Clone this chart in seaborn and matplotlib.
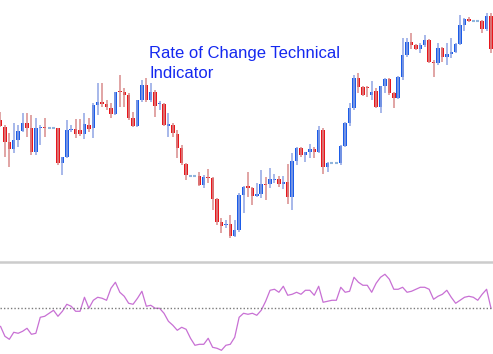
import numpy as np
import pandas as pd
import matplotlib
matplotlib.use('Agg')
import matplotlib.pyplot as plt
import seaborn as sns

# candle data (price units)
opens = [141, 134, 119, 112, 121, 130, 138, 133, 109, 133, 134, 133, 133, 133, 98, 104,
         131, 132, 131, 127, 136, 133, 156, 159, 157, 153, 147, 170, 169, 166, 143, 135,
         161, 176, 161, 169, 157, 157, 135, 136, 127, 113, 97, 85, 85, 85, 76, 84,
         83, 62, 39, 36, 37, 25, 31, 66, 75, 73, 65, 67, 77, 77, 81, 82,
         77, 79, 64, 100, 113, 106, 109, 112, 109, 131, 94, 98, 98, 98, 115, 138,
         153, 183, 174, 174, 166, 170, 154, 175, 182, 168, 163, 184, 206, 219, 216, 212,
         216, 221, 199, 198, 213, 204, 207, 209, 217, 236, 242, 240, 240, 240, 232, 245]
closes = [135, 119, 112, 121, 130, 138, 133, 109, 133, 134, 133, 133, 133, 98, 104, 131,
          132, 127, 127, 137, 132, 156, 159, 157, 154, 147, 169, 169, 166, 143, 135, 161,
          176, 161, 169, 155, 158, 136, 137, 128, 113, 98, 86, 85, 85, 76, 84, 83,
          62, 39, 35, 37, 25, 31, 66, 74, 73, 65, 67, 77, 76, 82, 82, 77,
          79, 64, 100, 113, 106, 109, 112, 109, 131, 94, 98, 98, 98, 115, 138, 153,
          183, 174, 166, 173, 169, 154, 175, 182, 168, 163, 184, 206, 219, 216, 212, 216,
          221, 199, 198, 213, 204, 207, 209, 217, 236, 242, 240, 240, 240, 232, 245, 212]
highs = [149, 136, 128, 138, 136, 148, 148, 146, 143, 136, 143, 133, 133, 133, 104, 141,
         136, 142, 142, 148, 143, 158, 178, 178, 161, 158, 169, 186, 173, 168, 149, 161,
         181, 183, 178, 171, 160, 158, 148, 138, 131, 116, 98, 85, 85, 89, 86, 92,
         84, 63, 43, 41, 46, 41, 68, 75, 89, 74, 78, 91, 84, 93, 87, 85,
         85, 97, 108, 114, 114, 109, 117, 114, 135, 133, 99, 98, 98, 116, 139, 158,
         186, 188, 175, 175, 180, 173, 175, 183, 183, 169, 185, 223, 223, 228, 217, 218,
         226, 222, 201, 218, 214, 218, 223, 218, 246, 243, 244, 240, 240, 241, 248, 248]
lows = [134, 104, 94, 108, 114, 129, 124, 106, 106, 116, 124, 133, 133, 96, 86, 103,
        129, 123, 125, 122, 129, 123, 146, 154, 151, 143, 146, 154, 154, 141, 134, 134,
        159, 159, 159, 144, 151, 135, 124, 124, 103, 96, 81, 85, 85, 75, 73, 78,
        51, 36, 28, 33, 23, 24, 29, 48, 64, 56, 64, 63, 61, 73, 78, 74,
        72, 57, 51, 96, 104, 99, 103, 103, 108, 87, 89, 98, 98, 96, 114, 135,
        151, 168, 165, 164, 161, 153, 148, 168, 166, 153, 162, 181, 204, 212, 211, 208,
        214, 198, 184, 196, 199, 196, 203, 208, 216, 230, 239, 240, 240, 228, 230, 208]

# rate of change indicator, one value per candle
roc = [-1.8, -2.8, -3.1, -2.4, -2.5, -2.3, -2.0, -2.6, -2.5, -0.9, -0.8, -0.5, -0.2, -0.8,
       -0.3, 0.4, 0.2, -0.3, -0.3, 1.1, 0.0, 0.8, 1.1, 1.0, 0.8, 2.0, 2.6, 1.6, 1.2, 0.5,
       0.4, 1.0, 1.7, 0.2, 0.3, 0.0, 0.0, -0.5, -1.3, -1.7, -2.2, -1.9, -2.1, -3.0, -3.7,
       -3.6, -3.6, -3.0, -3.9, -4.0, -4.2, -3.7, -3.6, -2.9, -0.9, -0.5, -0.6, -0.5, -0.7,
       -0.2, 0.7, 1.8, 1.9, 1.6, 2.2, 1.3, 1.4, 1.6, 1.4, 1.8, 1.8, 1.3, 2.2, 0.6, 0.7,
       0.8, 0.8, 2.1, 1.6, 1.7, 3.1, 2.6, 2.3, 2.3, 1.6, 2.5, 3.1, 3.4, 2.9, 1.9, 1.9,
       2.1, 1.6, 1.7, 1.9, 2.1, 2.1, 1.9, 0.9, 1.2, 1.4, 1.8, 1.1, 0.5, 0.8, 1.1, 1.2,
       1.1, 0.8, 1.4, 1.9, 0.0]

title_text = 'Rate of Change Technical\nIndicator'

sns.set_style('white')
plt.rcParams['font.family'] = ['Liberation Sans', 'DejaVu Sans']

df = pd.DataFrame({'open': opens, 'close': closes, 'high': highs, 'low': lows})
df['idx'] = np.arange(len(df))

fig = plt.figure(figsize=(4.93, 3.54), dpi=100)
ax = fig.add_axes([0, 0.2627, 1, 0.7373])
ax_roc = fig.add_axes([0, 0, 1, 0.26])

red, blue = '#e8161c', '#1b5ce8'
red_wick, blue_wick = '#d98c8c', '#8fa4e4'
doji_col = '#8fb4dc'

up = df[df['close'] > df['open']]
down = df[df['close'] < df['open']]
flat = df[df['close'] == df['open']]

ax.vlines(up['idx'], up['low'], up['high'], color=blue_wick, lw=1.1)
ax.vlines(down['idx'], down['low'], down['high'], color=red_wick, lw=1.1)
ax.bar(up['idx'], up['close'] - up['open'], bottom=up['open'], width=0.78,
       color=blue, linewidth=0)
ax.bar(down['idx'], down['open'] - down['close'], bottom=down['close'], width=0.78,
       color=red, linewidth=0)
ax.hlines(flat['open'], flat['idx'] - 0.35, flat['idx'] + 0.35, color=doji_col, lw=1.5)

xmin, xmax = -0.113, 111.45
ax.set_xlim(xmin, xmax)
ax.set_ylim(0, 261)
ax.axis('off')

ax.text(0.303, 0.757, title_text, transform=ax.transAxes, color='#1428f0',
        fontsize=12, ha='left', va='center', linespacing=1.35)

# ROC panel
roc_df = pd.DataFrame({'idx': np.arange(len(roc)), 'roc': roc})
sns.lineplot(data=roc_df, x='idx', y='roc', ax=ax_roc, color='#c870d4', lw=0.9)
ax_roc.axhline(0, color='#7a7a7a', lw=1, ls=(0, (1, 1.5)))
ax_roc.set_xlim(xmin, xmax)
ax_roc.set_ylim(-4.57, 4.63)
ax_roc.set_xticks([])
ax_roc.set_yticks([])
ax_roc.set_xlabel('')
ax_roc.set_ylabel('')
for s in ['left', 'right', 'bottom']:
    ax_roc.spines[s].set_visible(False)
ax_roc.spines['top'].set_color('#cccccc')
ax_roc.spines['top'].set_linewidth(1.8)

fig.savefig('out.png', dpi=100)
